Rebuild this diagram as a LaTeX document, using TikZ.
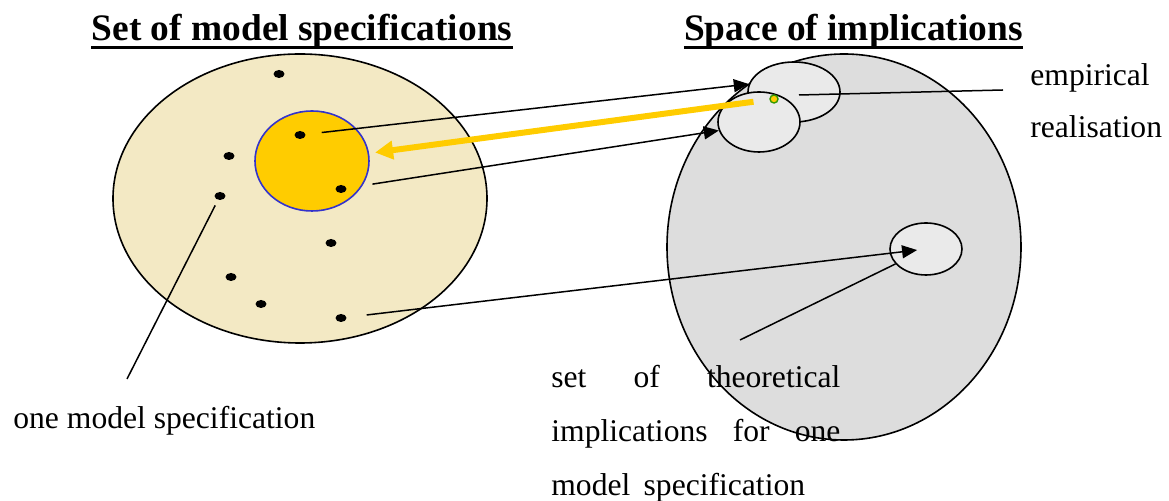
\documentclass[tikz,border=0pt]{standalone}
\usepackage{fontspec}
\setmainfont{Liberation Serif}
\usepackage{xcolor}
\usetikzlibrary{arrows.meta,shapes.geometric}

\definecolor{sand}{HTML}{F3E9C4}
\definecolor{gold}{HTML}{FFCC00}
\definecolor{rim}{HTML}{3333CC}
\definecolor{fog}{HTML}{DDDDDD}
\definecolor{mist}{HTML}{EAEAEA}
\definecolor{leaf}{HTML}{339900}

\begin{document}
\begin{tikzpicture}[x=0.5pt, y=-0.5pt,
  font=\fontsize{15.8}{27}\selectfont,
  head/.style={font=\fontsize{18.7}{22}\selectfont\bfseries, inner sep=0pt, anchor=base},
  lbl/.style={inner sep=0pt, anchor=base west},
  spot/.style={ellipse, fill=black, minimum width=5.5pt, minimum height=4pt, inner sep=0pt},
  blob/.style={ellipse, draw=black, line width=0.8pt, inner sep=0pt},
  link/.style={-{Triangle[length=7.5pt,width=6.5pt]}, line width=0.75pt},
  glow/.style={-{Triangle[length=9pt,width=9pt]}, line width=3pt, gold},
  tag/.style={line width=0.75pt}
]
\useasboundingbox (0,0) rectangle (1169,501);

% titles
\node[head] (ttl) at (302,41)   {Set of model specifications};
\node[head] (ttr) at (853.5,41) {Space of implications};
\draw[line width=1.5pt] ([yshift=-3.5pt]ttl.base west) -- ([yshift=-3.5pt]ttl.base east);
\draw[line width=1.5pt] ([yshift=-3.5pt]ttr.base west) -- ([yshift=-3.5pt]ttr.base east);

% left: set of model specifications
\node[blob, fill=sand, minimum width=187pt, minimum height=144.5pt] (lset) at (300,198.5) {};
\node[ellipse, draw=rim, fill=gold, line width=0.8pt, inner sep=0pt,
      minimum width=57pt, minimum height=50pt] (core) at (312,161) {};

\node[spot] (d1) at (279,74)  {};
\node[spot] (d2) at (229,156) {};
\node[spot] (d3) at (220,196) {};
\node[spot] (d4) at (300,135) {};
\node[spot] (d5) at (341,189) {};
\node[spot] (d6) at (331,243) {};
\node[spot] (d7) at (231,277) {};
\node[spot] (d8) at (261,304) {};
\node[spot] (d9) at (341,318) {};

% right: space of implications
\node[blob, fill=fog, minimum width=177pt, minimum height=193pt] (rset) at (844,247) {};
\node[blob, fill=mist, minimum width=46pt, minimum height=30pt] (s1) at (794,92)  {};
\node[blob, fill=mist, minimum width=41pt, minimum height=30pt] (s2) at (759,122) {};
\node[blob, fill=mist, minimum width=36pt, minimum height=26pt] (s3) at (926,249) {};
\node[circle, draw=leaf, fill=gold, line width=0.7pt, inner sep=0pt,
      minimum size=4pt] (real) at (774,99) {};

% mappings
\draw[link, shorten <=8pt]  (d4) -- (s1.170);
\draw[link, shorten <=13pt] (d5) -- (s2.192);
\draw[link, shorten <=10pt, shorten >=4.5pt] (d9) -- (s3.center);
\draw[glow, shorten <=8pt, shorten >=3pt] (real) -- (core);

% labels
\node[lbl] (emp) at (1030,86)  {empirical};
\node[lbl] (rea) at (1030,138) {realisation};
\node[lbl] (one) at (13,429)   {one model~specification};
\node[lbl, text width=144.5pt, align=left] (impl) at (551,388)
  {set\hfill of\hfill theoretical\\
   implications\hfill for\hfill one\\
   model\hspace{0.42em}specification};

\coordinate (empa) at (1003,90);
\coordinate (empb) at (799,95);
\coordinate (onea) at (127,379);
\coordinate (impa) at (740,340);
\draw[tag] (empa) -- (empb);
\draw[tag, shorten >=3pt] (onea) -- (d3);
\draw[tag] (impa) -- (s3);

\end{tikzpicture}
\end{document}
